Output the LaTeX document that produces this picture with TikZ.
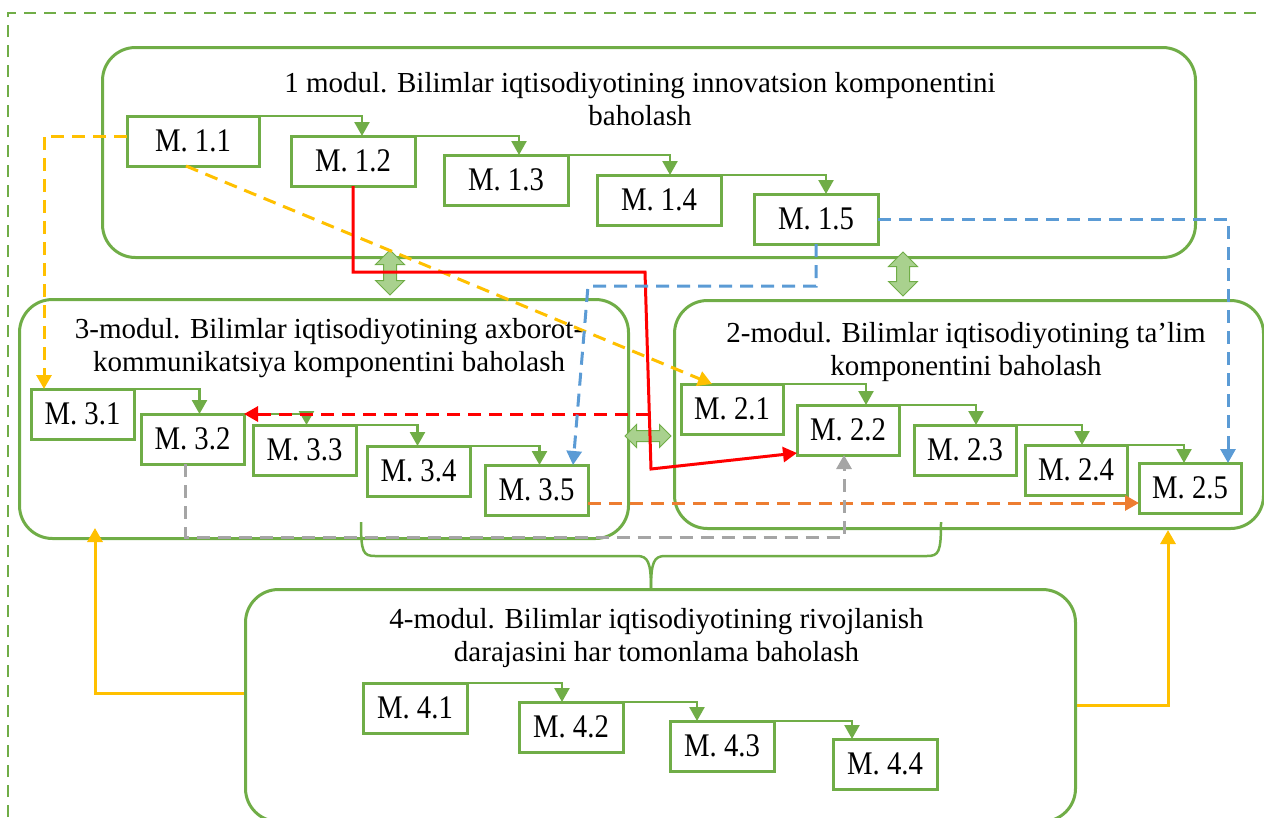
\documentclass[tikz,border=0pt]{standalone}
\usepackage{fontspec}
\setmainfont{Liberation Serif}
\newfontfamily\boxfont[FakeStretch=0.87]{Liberation Serif}
\usetikzlibrary{arrows.meta, positioning, shapes.arrows}

\definecolor{mgreen}{HTML}{70AD47}
\definecolor{lgreen}{HTML}{A9D18E}
\definecolor{myellow}{HTML}{FFC000}
\definecolor{mblue}{HTML}{5B9BD5}
\definecolor{morange}{HTML}{ED7D31}
\definecolor{mgray}{HTML}{A5A5A5}
\definecolor{mred}{HTML}{FF0000}

\begin{document}
\begin{tikzpicture}[x=1pt, y=-1pt, font=\fontsize{29}{33}\selectfont]

    % Define styles
    \tikzset{
      module/.style={rectangle, rounded corners=33pt, draw=mgreen, line width=3pt, anchor=north west},
      title/.style={align=center, inner sep=0pt},
      mbox/.style={rectangle, draw=mgreen, fill=white, line width=3pt, minimum height=50pt, inner sep=2pt, outer sep=0pt, font=\boxfont\fontsize{33}{36}\selectfont},
      dblarrow/.style={double arrow, draw=mgreen, fill=lgreen, line width=1pt, inner xsep=0pt, inner ysep=6pt, minimum width=28pt, double arrow head extend=8pt, double arrow head indent=0pt},
      tip/.style={-{Triangle[width=15pt,length=14pt]}},
      steparrow/.style={draw=mgreen, line width=2.5pt, tip},
      dashes/.style={line width=3pt, dash pattern=on 13pt off 8pt, tip},
      yellowdash/.style={draw=myellow, dashes},
      bluedash/.style={draw=mblue, dashes},
      orangedash/.style={draw=morange, dashes},
      graydash/.style={draw=mgray, dashes},
      reddash/.style={draw=mred, dashes},
      redline/.style={draw=mred, line width=3pt, tip},
      yellowline/.style={draw=myellow, line width=3pt, tip},
      bracepath/.style={draw=mgreen, line width=2.5pt},
      frame/.style={draw=mgreen, line width=2.5pt, dash pattern=on 12pt off 8pt}
    }

    \useasboundingbox (0,0) rectangle (1264,817);

    % Modules
    \node[module, minimum width=1093pt, minimum height=210pt] (mod1) at (101,46) {};
    \node[module, minimum width=609pt, minimum height=239pt] (mod3) at (18,298) {};
    \node[module, minimum width=589pt, minimum height=228pt] (mod2) at (673,299) {};
    \node[module, minimum width=830pt, minimum height=232pt] (mod4) at (244,588) {};

    \node[title, below=26pt of mod1.north, xshift=-9pt] (t1) {1 modul. Bilimlar iqtisodiyotining innovatsion komponentini\\baholash};
    \node[title, below=20pt of mod3.north, xshift=5pt] (t3) {3-modul. Bilimlar iqtisodiyotining axborot-\\kommunikatsiya komponentini baholash};
    \node[title, below=23pt of mod2.north, xshift=-3pt] (t2) {2-modul. Bilimlar iqtisodiyotining ta’lim\\komponentini baholash};
    \node[title, below=20pt of mod4.north, xshift=-4pt] (t4) {4-modul. Bilimlar iqtisodiyotining rivojlanish\\darajasini har tomonlama baholash};

    % Double arrows between modules
    \node[dblarrow, minimum height=45pt, rotate=90] (a13) at (390,272.5) {};
    \node[dblarrow, minimum height=44pt, rotate=90] (a12) at (903,274) {};
    \node[dblarrow, minimum height=46pt, minimum width=22pt, inner ysep=5pt, double arrow head extend=6pt] (a32) at (648,436) {};

    % Boxes
    \node[mbox, minimum width=132pt, below right=70pt and 26pt of mod1.north west] (m11) {M. 1.1};
    \node[mbox, minimum width=124pt, below right=20pt and 32pt of m11.north east] (m12) {M. 1.2};
    \node[mbox, minimum width=124pt, below right=19pt and 29pt of m12.north east] (m13) {M. 1.3};
    \node[mbox, minimum width=124pt, below right=20pt and 29pt of m13.north east] (m14) {M. 1.4};
    \node[mbox, minimum width=124pt, below right=19pt and 33pt of m14.north east] (m15) {M. 1.5};

    \node[mbox, minimum width=103pt, below right=91pt and 13pt of mod3.north west] (m31) {M. 3.1};
    \node[mbox, minimum width=103pt, below right=25pt and 7pt of m31.north east] (m32) {M. 3.2};
    \node[mbox, minimum width=103pt, below right=11pt and 9pt of m32.north east] (m33) {M. 3.3};
    \node[mbox, minimum width=103pt, below right=21pt and 11pt of m33.north east] (m34) {M. 3.4};
    \node[mbox, minimum width=103pt, below right=19pt and 15pt of m34.north east] (m35) {M. 3.5};

    \node[mbox, minimum width=102pt, below right=85pt and 8pt of mod2.north west] (m21) {M. 2.1};
    \node[mbox, minimum width=102pt, below right=21pt and 14pt of m21.north east] (m22) {M. 2.2};
    \node[mbox, minimum width=102pt, below right=20pt and 15pt of m22.north east] (m23) {M. 2.3};
    \node[mbox, minimum width=102pt, below right=20pt and 9pt of m23.north east] (m24) {M. 2.4};
    \node[mbox, minimum width=102pt, below right=18pt and 12pt of m24.north east] (m25) {M. 2.5};

    \node[mbox, minimum width=104pt, below right=95pt and 119pt of mod4.north west] (m41) {M. 4.1};
    \node[mbox, minimum width=104pt, below right=19pt and 52pt of m41.north east] (m42) {M. 4.2};
    \node[mbox, minimum width=104pt, below right=19pt and 47pt of m42.north east] (m43) {M. 4.3};
    \node[mbox, minimum width=104pt, below right=18pt and 59pt of m43.north east] (m44) {M. 4.4};

    % Steps inside modules
    \foreach \a/\b/\s in {m11/m12/9, m12/m13/13, m13/m14/11, m14/m15/10,
                          m31/m32/7, m32/m33/2, m33/m34/-1, m34/m35/3,
                          m21/m22/18, m22/m23/11, m23/m24/6, m24/m25/-6,
                          m41/m42/-9, m42/m43/-25, m43/m44/-33}
      \draw[steparrow] (\a.north east) -| ([xshift=\s pt]\b.north);

    % Links between modules
    \coordinate (redtop) at (645,272);
    \coordinate (redbot) at (651,469);
    \coordinate (redsplit) at (649,414);
    \coordinate (bluebend) at (588,286);
    \coordinate (graybend) at (500,537);

    \draw[yellowdash] ([yshift=5pt]m11.west) -| ([xshift=13pt]m31.north west);
    \draw[yellowdash] ([xshift=-7pt]m11.south) -- ([xshift=31pt]m21.north west);
    \draw[redline] (m12.south) |- (redtop) -- (redbot) -- ([yshift=2pt]m22.south west);
    \draw[reddash] (redsplit) -- (m32.north east);
    \draw[bluedash] (m15.east) -| ([xshift=-13pt]m25.north east);
    \draw[bluedash] (m15.south) |- (bluebend) -- ([xshift=-15pt]m35.north east);
    \draw[orangedash] ([yshift=-13pt]m35.east) -- ([yshift=-13pt]m35.east -| m25.west);
    \draw[graydash] ([xshift=-7pt]m32.south) |- (graybend) -| ([xshift=-4pt]m22.south);
    \draw[yellowline] ([yshift=12pt]mod4.west) -| ([xshift=-229pt, yshift=12pt]mod3.south);
    \draw[yellowline] (mod4.east) -| ([xshift=199pt]mod2.south);

    % Brace over module 4
    \draw[bracepath] (361,522) .. controls (361,552) and (363,556) .. (375,556) -- (637,556) .. controls (648,556) and (651,562) .. (651,589);
    \draw[bracepath] (941,522) .. controls (941,552) and (939,556) .. (927,556) -- (665,556) .. controls (654,556) and (651,562) .. (651,589);

    % Outer frame
    \draw[frame] (8,817) -- (8,13) -- (1264,13);

\end{tikzpicture}
\end{document}
